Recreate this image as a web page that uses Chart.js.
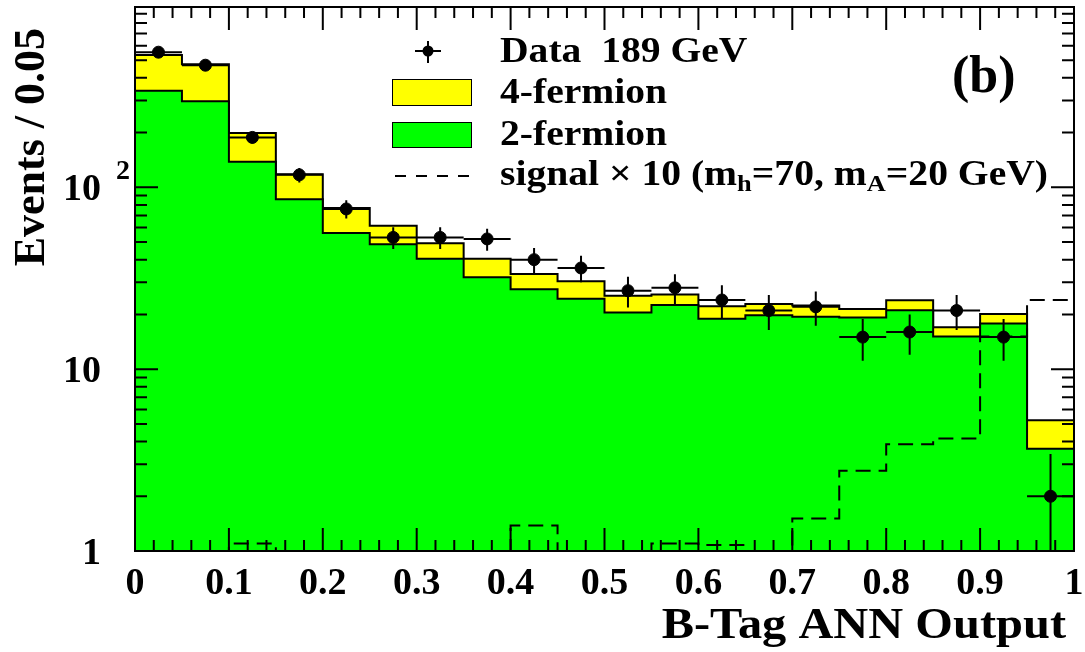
<!DOCTYPE html>
<html>
<head>
<meta charset="utf-8">
<script src="https://cdn.jsdelivr.net/npm/chart.js@4.4.1/dist/chart.umd.min.js"></script>
<style>
  html, body { margin: 0; padding: 0; background: #fff; }
  #wrap { width: 1085px; height: 652px; }
</style>
</head>
<body>
<div id="wrap"><canvas id="chart" width="1085" height="652"></canvas></div>
<script>
// bin edges of the B-tag ANN output (width 0.05)
const binEdges = [0, 0.05, 0.1, 0.15, 0.2, 0.25, 0.3, 0.35, 0.4, 0.45, 0.5,
                  0.55, 0.6, 0.65, 0.7, 0.75, 0.8, 0.85, 0.9, 0.95, 1];
const binCenters = [0.025, 0.075, 0.125, 0.175, 0.225, 0.275, 0.325, 0.375, 0.425, 0.475,
                    0.525, 0.575, 0.625, 0.675, 0.725, 0.775, 0.825, 0.875, 0.925, 0.975];

// events per bin
const dataCounts = [553, 469, 188, 117, 76, 53, 53, 52, 40, 36,
                    27, 28, 24, 21, 22, 15, 16, 21, 15, 2];
const twoFermion = [339, 297, 138, 86, 56, 48.6, 40.4, 32, 27.5, 24.4,
                    20.5, 22.5, 18.9, 19.8, 19.4, 19.2, 21.1, 15.1, 17.8, 3.65];
const fourFermion = [194, 177, 61, 32, 21, 12.9, 8.9, 8.4, 5.8, 6.0,
                     4.8, 3.2, 3.3, 3.0, 3.0, 2.2, 2.8, 1.9, 2.3, 1.58];
// signal x 10 (0.5 = below the axis, nothing visible)
const signalX10 = [0.5, 0.5, 1.1, 0.5, 0.5, 0.5, 0.5, 0.5, 1.38, 0.5,
                   0.5, 1.1, 1.08, 0.5, 1.51, 2.76, 3.86, 4.15, 15.1, 24.0];

const yTicks = [1, 10, 100];
const xTickLabels = ["0", "0.1", "0.2", "0.3", "0.4", "0.5", "0.6", "0.7", "0.8", "0.9", "1"];

const FONT = '"Liberation Serif", "DejaVu Serif", serif';
const Y_MIN = 1, Y_MAX = 980;
const SX = 1.1; // reference text is a bit wider than Liberation Serif

// histogram as step line: one point per left edge + closing point at x=1
function stepPoints(vals) {
  let pts = vals.map((v, i) => ({ x: binEdges[i], y: v }));
  pts.push({ x: binEdges[binEdges.length - 1], y: vals[vals.length - 1] });
  return pts;
}

const mcTotal = twoFermion.map((v, i) => v + fourFermion[i]);

function txt(ctx, s, x, y, size, align, sx) {
  sx = sx || 1;
  ctx.save();
  ctx.font = "bold " + size + "px " + FONT;
  ctx.textAlign = align || "left";
  ctx.textBaseline = "alphabetic";
  ctx.fillStyle = "#000";
  ctx.translate(x, y);
  ctx.scale(sx, 1);
  ctx.fillText(s, 0, 0);
  const w = ctx.measureText(s).width * sx;
  ctx.restore();
  return w;
}

// error bars, frame, inward ticks, labels, legend
const decorPlugin = {
  id: "decor",
  afterDatasetsDraw(chart) {
    const ctx = chart.ctx, xs = chart.scales.x, ys = chart.scales.y, a = chart.chartArea;
    ctx.save();
    ctx.beginPath();
    ctx.rect(a.left, a.top, a.right - a.left, a.bottom - a.top);
    ctx.clip();
    ctx.strokeStyle = "#000";
    ctx.lineWidth = 2;
    dataCounts.forEach((n, i) => {
      const cx = xs.getPixelForValue(binCenters[i]);
      const cy = ys.getPixelForValue(n);
      const e = Math.sqrt(n);
      const hi = ys.getPixelForValue(n + e);
      const lo = n - e > Y_MIN ? ys.getPixelForValue(n - e) : a.bottom + 5;
      ctx.beginPath();
      ctx.moveTo(cx, hi); ctx.lineTo(cx, lo);
      ctx.moveTo(xs.getPixelForValue(binEdges[i]), cy);
      ctx.lineTo(xs.getPixelForValue(binEdges[i + 1]), cy);
      ctx.stroke();
    });
    ctx.restore();
  },
  afterDraw(chart) {
    const ctx = chart.ctx, xs = chart.scales.x, ys = chart.scales.y, a = chart.chartArea;
    ctx.save();
    ctx.strokeStyle = "#000";
    ctx.lineWidth = 2;
    ctx.beginPath();
    // x ticks (0.02 minor, 0.1 major), bottom and top
    for (let i = 1; i < 50; i++) {
      const px = xs.getPixelForValue(i * 0.02);
      const len = i % 5 === 0 ? 23 : 11;
      ctx.moveTo(px, a.bottom); ctx.lineTo(px, a.bottom - len);
      ctx.moveTo(px, a.top); ctx.lineTo(px, a.top + len);
    }
    // y ticks, left and right
    yTicks.forEach(d => {
      for (let m = 1; m <= 9; m++) {
        const v = m * d;
        if (v > Y_MAX) break;
        const py = ys.getPixelForValue(v);
        const len = m === 1 ? 23 : 12;
        ctx.moveTo(a.left, py); ctx.lineTo(a.left + len, py);
        ctx.moveTo(a.right, py); ctx.lineTo(a.right - len, py);
      }
    });
    ctx.stroke();
    ctx.strokeRect(a.left, a.top, a.right - a.left, a.bottom - a.top);

    // tick labels
    xTickLabels.forEach(l => {
      txt(ctx, l, xs.getPixelForValue(parseFloat(l)), 594, 38, "center");
    });
    txt(ctx, "1", 101, ys.getPixelForValue(1) + 13, 38, "right");
    txt(ctx, "10", 101, ys.getPixelForValue(10) + 13, 38, "right");
    txt(ctx, "10", 101, ys.getPixelForValue(100) + 13, 38, "right");
    txt(ctx, "2", 116, ys.getPixelForValue(100) - 8, 28, "left");

    // axis titles
    txt(ctx, "B-Tag ANN Output", 1066, 638, 44, "right", SX);
    ctx.save();
    ctx.translate(44, 28);
    ctx.rotate(-Math.PI / 2);
    txt(ctx, "Events / 0.05", 0, 0, 44, "right");
    ctx.restore();

    // legend
    ctx.lineWidth = 2;
    ctx.beginPath();
    ctx.moveTo(428, 41); ctx.lineTo(428, 63);
    ctx.moveTo(415, 51); ctx.lineTo(441, 51);
    ctx.stroke();
    ctx.beginPath();
    ctx.arc(428, 51, 5.5, 0, Math.PI * 2);
    ctx.fillStyle = "#000";
    ctx.fill();

    ctx.lineWidth = 1;
    ctx.fillStyle = "#ffff00";
    ctx.fillRect(392, 79, 79, 26);
    ctx.strokeRect(392.5, 79.5, 79, 26);
    ctx.fillStyle = "#00ff00";
    ctx.fillRect(392, 122, 79, 25);
    ctx.strokeRect(392.5, 122.5, 79, 25);

    ctx.lineWidth = 2;
    ctx.setLineDash([11, 10]);
    ctx.beginPath();
    ctx.moveTo(395, 176); ctx.lineTo(472, 176);
    ctx.stroke();
    ctx.setLineDash([]);

    txt(ctx, "Data  189 GeV", 500, 62, 36, "left", SX);
    txt(ctx, "4-fermion", 500, 103, 36, "left", SX);
    txt(ctx, "2-fermion", 500, 145, 36, "left", SX);
    let x = 500;
    x += txt(ctx, "signal \u00d7 10 (m", x, 185, 36, "left", SX);
    x += txt(ctx, "h", x, 191, 24, "left", SX);
    x += txt(ctx, "=70, m", x, 185, 36, "left", SX);
    x += txt(ctx, "A", x, 191, 24, "left", SX);
    txt(ctx, "=20 GeV)", x, 185, 36, "left", SX);

    txt(ctx, "(b)", 952, 92, 52);
    ctx.restore();
  }
};

new Chart(document.getElementById("chart"), {
  type: "line",
  data: {
    datasets: [
      {
        label: "4-fermion",
        data: stepPoints(mcTotal),
        stepped: true,
        fill: "start",
        backgroundColor: "#ffff00",
        borderColor: "#000",
        borderWidth: 2,
        pointRadius: 0,
        order: 4
      },
      {
        label: "2-fermion",
        data: stepPoints(twoFermion),
        stepped: true,
        fill: "start",
        backgroundColor: "#00ff00",
        borderColor: "#000",
        borderWidth: 2,
        pointRadius: 0,
        order: 3
      },
      {
        label: "signal x 10",
        data: stepPoints(signalX10),
        stepped: true,
        fill: false,
        borderColor: "#000",
        borderWidth: 2,
        borderDash: [15, 8],
        pointRadius: 0,
        order: 2
      },
      {
        label: "Data 189 GeV",
        data: dataCounts.map((n, i) => ({ x: binCenters[i], y: n })),
        showLine: false,
        pointRadius: 6,
        pointBackgroundColor: "#000",
        pointBorderColor: "#000",
        order: 1
      }
    ]
  },
  options: {
    responsive: false,
    animation: false,
    events: [],
    layout: { padding: { left: 135, right: 11, top: 4, bottom: 101 } },
    plugins: { legend: { display: false }, tooltip: { enabled: false } },
    scales: {
      x: { type: "linear", min: 0, max: 1, display: false },
      y: { type: "logarithmic", min: Y_MIN, max: Y_MAX, display: false }
    }
  },
  plugins: [decorPlugin]
});
</script>
</body>
</html>
